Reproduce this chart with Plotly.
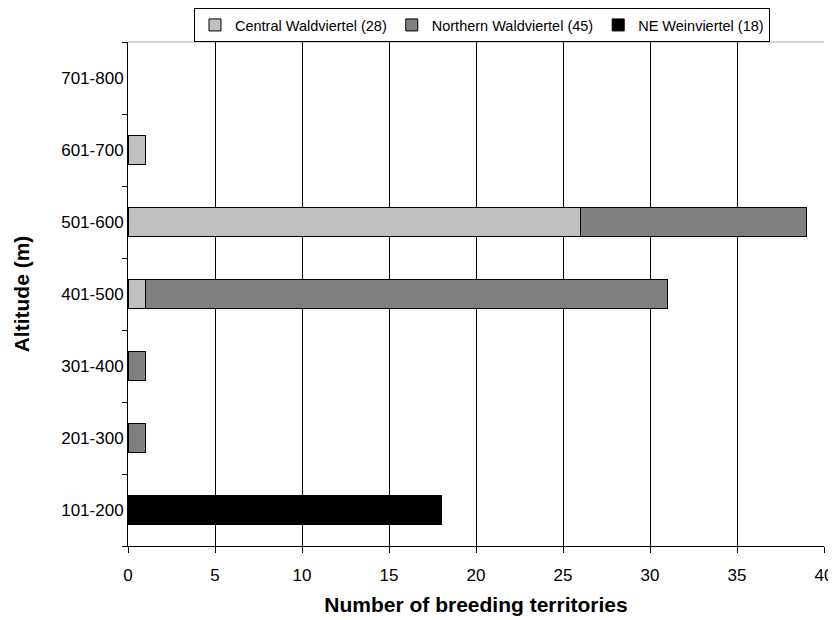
import plotly.graph_objects as go

categories = ["101-200", "201-300", "301-400", "401-500", "501-600", "601-700", "701-800"]
central = [0, 0, 0, 1, 26, 1, 0]
northern = [0, 1, 1, 30, 13, 0, 0]
ne_wein = [18, 0, 0, 0, 0, 0, 0]
series_names = ["Central Waldviertel (28)", "Northern Waldviertel (45)", "NE Weinviertel (18)"]
colors = ["#C0C0C0", "#808080", "#000000"]
x_ticks = [0, 5, 10, 15, 20, 25, 30, 35, 40]

fig = go.Figure()
for name, vals, col in zip(series_names, [central, northern, ne_wein], colors):
    fig.add_trace(go.Bar(
        y=categories, x=[v if v else None for v in vals], name=name, orientation="h",
        marker=dict(color=col, line=dict(color="#000000", width=1)),
    ))

# light top border of the plot area
fig.add_shape(type="line", xref="paper", yref="paper", x0=0, x1=1, y0=1, y1=1,
              line=dict(color="#A8A8A8", width=1), layer="below")

# page body has an 8px margin, so the figure is sized/offset to compensate
fig.update_layout(
    barmode="stack",
    bargap=0.6,
    width=828, height=612,
    margin=dict(l=120, r=12, t=34, b=74),
    paper_bgcolor="white", plot_bgcolor="white",
    font=dict(family="Liberation Sans, Arial, sans-serif", size=17, color="#000000"),
    legend=dict(
        orientation="h", x=0.5086, xanchor="center",
        yref="container", y=1.0, yanchor="top",
        bordercolor="#000000", borderwidth=1,
        font=dict(size=14.5), itemwidth=30, traceorder="normal",
    ),
    xaxis=dict(
        range=[0, 40], tickvals=x_ticks, showgrid=True, gridcolor="#000000", gridwidth=1,
        showline=True, linecolor="#000000", linewidth=1, ticks="outside", ticklen=6,
        tickcolor="#000000", zeroline=False, automargin=False, ticklabelstandoff=8,
        title=dict(text="<b>Number of breeding territories</b>", font=dict(size=21), standoff=12),
    ),
    yaxis=dict(
        categoryorder="array", categoryarray=categories,
        showline=True, linecolor="#000000", linewidth=1, ticks="outside", ticklen=5,
        tickcolor="#000000", tickson="boundaries", showgrid=False, automargin=False,
        title=dict(text="<b>Altitude (m)</b>", font=dict(size=21), standoff=25),
    ),
)

fig.write_html("out.html")
